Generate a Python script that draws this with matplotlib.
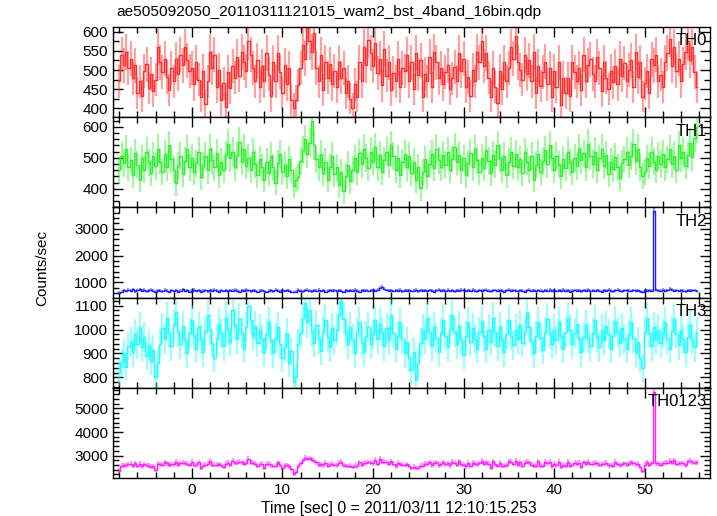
import numpy as np
import matplotlib
matplotlib.use("Agg")
import matplotlib.pyplot as plt
from matplotlib.ticker import MultipleLocator

plt.rcParams['font.family'] = ['Liberation Sans', 'DejaVu Sans']

# light curve bins: 0.25 s (16 x 1/64 s), start time in sec
t_start = -8.0
bin_width = 0.25

th0 = [
    470, 540, 512, 548, 505, 530, 478, 512, 440, 470, 432, 498, 515, 452, 490, 446,
    475, 560, 520, 495, 530, 482, 448, 505, 470, 528, 490, 540, 512, 560, 525, 498,
    505, 462, 520, 475, 430, 498, 410, 470, 548, 505, 540, 455, 500, 420, 465, 402,
    495, 452, 510, 480, 535, 485, 548, 520, 498, 575, 540, 505, 470, 525, 455, 510,
    470, 545, 488, 432, 520, 470, 545, 495, 440, 512, 462, 505, 420, 400, 420, 460,
    505, 565, 530, 612, 575, 548, 598, 505, 470, 540, 448, 520, 480, 515, 462, 498,
    455, 520, 480, 505, 440, 470, 425, 400, 462, 430, 520, 470, 560, 512, 580, 545,
    510, 572, 492, 530, 460, 555, 485, 520, 448, 492, 470, 530, 455, 505, 498, 540,
    470, 520, 450, 545, 488, 525, 430, 490, 470, 535, 455, 548, 520, 478, 505, 462,
    495, 512, 450, 478, 508, 470, 545, 498, 530, 455, 482, 432, 500, 470, 548, 520,
    575, 510, 545, 480, 430, 505, 455, 412, 498, 450, 520, 470, 505, 560, 530, 590,
    520, 500, 475, 540, 490, 525, 470, 548, 440, 510, 458, 495, 522, 462, 505, 430,
    498, 455, 520, 408, 480, 440, 478, 432, 520, 495, 470, 505, 448, 540, 470, 512,
    528, 490, 470, 535, 505, 445, 520, 480, 450, 498, 468, 510, 462, 530, 485, 518,
    470, 500, 525, 455, 548, 482, 520, 430, 465, 498, 440, 528, 512, 540, 470, 488,
    455, 520, 545, 582, 510, 560, 498, 530, 470, 515, 548, 575, 525, 560, 495, 455,
]

th1 = [
    460, 505, 482, 528, 470, 492, 445, 515, 478, 430, 498, 462, 520, 485, 450, 505,
    472, 530, 488, 455, 512, 470, 540, 495, 462, 418, 475, 505, 448, 490, 528, 470,
    500, 455, 482, 520, 438, 475, 505, 460, 530, 492, 470, 515, 445, 488, 462, 510,
    545, 498, 520, 470, 505, 552, 488, 530, 475, 500, 462, 518, 480, 445, 495, 470,
    430, 488, 452, 505, 470, 420, 482, 512, 455, 478, 440, 495, 462, 410, 430, 438,
    490, 525, 560, 512, 548, 618, 540, 495, 470, 512, 452, 488, 430, 470, 505, 448,
    470, 412, 455, 392, 440, 478, 425, 462, 498, 455, 515, 480, 530, 500, 468, 520,
    488, 535, 470, 510, 455, 492, 520, 478, 540, 505, 462, 498, 445, 485, 512, 470,
    505, 450, 488, 428, 470, 402, 455, 495, 440, 480, 512, 468, 530, 492, 470, 508,
    478, 520, 462, 495, 535, 488, 510, 460, 498, 445, 482, 515, 470, 528, 492, 455,
    500, 468, 525, 490, 452, 510, 478, 540, 498, 462, 505, 445, 488, 520, 475, 512,
    470, 495, 450, 518, 488, 462, 505, 430, 478, 512, 455, 490, 525, 480, 540, 498,
    462, 505, 478, 440, 495, 468, 520, 485, 455, 500, 472, 530, 492, 515, 470, 545,
    505, 480, 520, 462, 498, 530, 475, 510, 448, 488, 465, 502, 470, 435, 482, 495,
    520, 478, 505, 545, 490, 530, 470, 440, 455, 498, 475, 520, 488, 462, 505, 480,
    512, 470, 495, 528, 480, 505, 462, 540, 498, 520, 475, 510, 548, 502, 565, 598,
]

th2 = [
    610, 655, 700, 672, 720, 690, 735, 668, 705, 742, 690, 715, 660, 700, 725, 680,
    650, 705, 690, 662, 718, 680, 640, 695, 672, 710, 655, 690, 730, 675, 700, 645,
    688, 720, 670, 705, 650, 692, 712, 665, 700, 680, 725, 690, 655, 710, 672, 698,
    660, 705, 682, 715, 690, 655, 700, 678, 720, 695, 660, 702, 685, 650, 690, 712,
    675, 640, 690, 705, 668, 720, 685, 655, 698, 672, 710, 688, 645, 640, 650, 715,
    690, 665, 700, 722, 685, 660, 705, 690, 715, 672, 700, 655, 690, 710, 678, 700,
    665, 700, 688, 640, 695, 672, 705, 690, 720, 680, 655, 700, 685, 712, 670, 695,
    705, 680, 720, 790, 835, 760, 712, 690, 705, 672, 700, 688, 715, 665, 695, 680,
    700, 670, 690, 715, 660, 695, 680, 705, 672, 710, 688, 650, 695, 720, 680, 700,
    690, 715, 675, 700, 660, 705, 688, 720, 695, 670, 700, 682, 715, 690, 665, 705,
    680, 700, 725, 690, 660, 695, 712, 678, 700, 685, 650, 695, 718, 680, 705, 690,
    672, 705, 690, 655, 700, 720, 685, 695, 670, 710, 688, 660, 700, 692, 715, 680,
    698, 670, 705, 690, 720, 680, 700, 655, 690, 712, 685, 700, 668, 705, 690, 715,
    680, 700, 672, 710, 690, 655, 700, 685, 715, 690, 668, 700, 720, 685, 660, 695,
    705, 690, 670, 712, 685, 700, 660, 640, 710, 680, 700, 690, 3680, 720, 705, 690,
    715, 680, 700, 760, 720, 690, 705, 675, 700, 690, 660, 700, 680, 695, 705, 670,
]

th3 = [
    820, 865, 900, 845, 930, 950, 905, 980, 940, 1010, 925, 970, 890, 935, 870, 915,
    800, 860, 940, 1005, 960, 1050, 985, 930, 1020, 1075, 990, 940, 1015, 955, 900, 985,
    1040, 975, 920, 1010, 960, 905, 990, 1060, 1000, 945, 880, 960, 1025, 985, 930, 1050,
    1000, 950, 1080, 1020, 960, 1045, 985, 920, 1010, 1100, 1040, 975, 1015, 945, 1000, 960,
    905, 980, 1030, 955, 900, 965, 1010, 940, 880, 925, 985, 860, 910, 780, 800, 940,
    985, 1050, 1110, 1030, 1080, 990, 945, 1020, 960, 910, 995, 1040, 970, 925, 1005, 955,
    1000, 1060, 1120, 1045, 985, 940, 1010, 960, 900, 985, 1030, 950, 905, 975, 1010, 940,
    980, 1040, 960, 1025, 990, 930, 1005, 955, 1060, 985, 920, 975, 1030, 960, 900, 950,
    880, 830, 905, 790, 860, 945, 1000, 960, 1050, 990, 930, 1010, 965, 905, 985, 1040,
    975, 925, 1000, 1060, 990, 940, 1015, 960, 895, 975, 1030, 950, 1005, 960, 920, 990,
    1035, 970, 920, 1000, 950, 1050, 990, 930, 1010, 960, 905, 980, 1040, 975, 935, 1000,
    960, 1020, 945, 990, 1070, 1010, 950, 900, 975, 1030, 965, 915, 990, 1045, 980, 940,
    1000, 955, 1030, 975, 920, 990, 1050, 1000, 940, 985, 1025, 960, 905, 970, 1020, 965,
    930, 985, 1040, 970, 925, 1000, 955, 1015, 980, 920, 975, 1035, 990, 945, 1005, 960,
    920, 980, 1030, 965, 905, 950, 880, 840, 990, 1050, 985, 930, 1010, 960, 1000, 945,
    985, 1030, 960, 920, 995, 1045, 980, 935, 1000, 960, 905, 970, 1020, 960, 925, 990,
]

# TH0123 is the sum of the four bands
th0123 = np.array(th0) + np.array(th1) + np.array(th2) + np.array(th3)

bands = ['TH0', 'TH1', 'TH2', 'TH3', 'TH0123']
rates = [th0, th1, th2, th3, th0123]
colors = ['#ff3030', '#30f030', '#2020ff', '#20ffff', '#ff20ff']
ylims = [(376, 613), (340, 631), (427, 3800), (756, 1134), (2050, 5875)]
ymajor = [50, 100, 1000, 100, 1000]
yminor = [25, 20, 200, 20, 200]

t = t_start + bin_width * np.arange(len(th0))

dpi = 100
fig = plt.figure(figsize=(717 / dpi, 516 / dpi), dpi=dpi)
gs = fig.add_gridspec(5, 1, left=113 / 717, right=710 / 717,
                      top=1 - 27 / 516, bottom=1 - 478 / 516, hspace=0)

axes = []
for i in range(5):
    ax = fig.add_subplot(gs[i, 0], sharex=axes[0] if axes else None)
    y = np.asarray(rates[i], dtype=float)
    err = np.sqrt(y * bin_width) / bin_width  # poisson errors
    ax.errorbar(t, y, yerr=err, fmt='none', ecolor=colors[i], alpha=0.45,
                elinewidth=1.6)
    ax.step(t, y, where='mid', color=colors[i], lw=1.0)
    ax.set_ylim(*ylims[i])
    ax.yaxis.set_major_locator(MultipleLocator(ymajor[i]))
    ax.yaxis.set_minor_locator(MultipleLocator(yminor[i]))
    ax.xaxis.set_major_locator(MultipleLocator(10))
    ax.xaxis.set_minor_locator(MultipleLocator(2))
    ax.tick_params(which='both', direction='in', top=True, right=True,
                   labelsize=11, width=1)
    ax.tick_params(which='major', length=7)
    ax.tick_params(which='minor', length=4)
    for s in ax.spines.values():
        s.set_linewidth(1)
    ax.text(0.995, 0.93, bands[i], transform=ax.transAxes, ha='right',
            va='top', fontsize=12)
    if i < 4:
        ax.tick_params(labelbottom=False)
    axes.append(ax)

axes[0].set_xlim(-8.7, 57.2)
fig.text(399 / 717, 1 - 508 / 516, 'Time [sec] 0 = 2011/03/11 12:10:15.253',
         ha='center', va='center', fontsize=11.3)
fig.text(42 / 717, 1 - 268 / 516, 'Counts/sec', rotation=90, ha='center',
         va='center', fontsize=11)
fig.text(116 / 717, 1 - 12 / 516, 'ae505092050_20110311121015_wam2_bst_4band_16bin.qdp',
         ha='left', va='center', fontsize=11.1)

fig.savefig('out.png', dpi=dpi)
